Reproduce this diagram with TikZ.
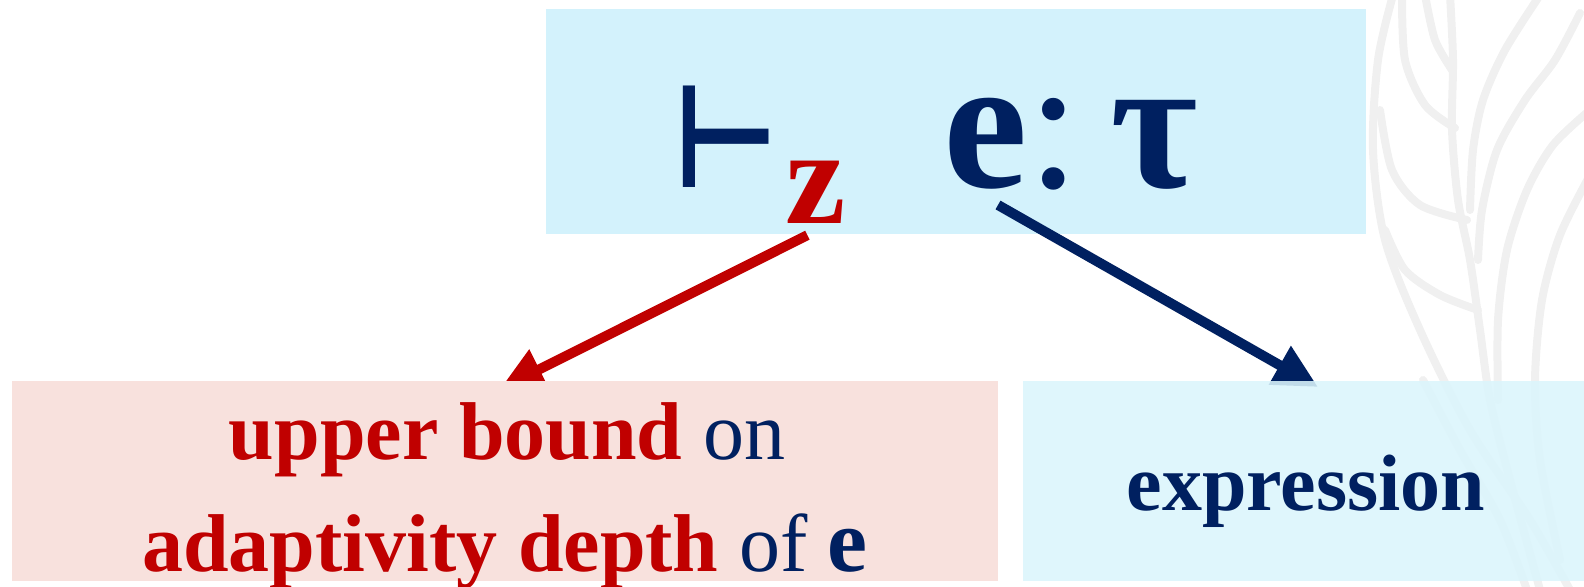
\documentclass[tikz,border=0pt]{standalone}
\usepackage{fontspec}
\setmainfont{Liberation Serif}
\newfontfamily\symfont{DejaVu Sans}
\usepackage{xcolor}
\definecolor{DeepRed}{HTML}{C00000}
\definecolor{Navy}{HTML}{002060}
\definecolor{SkyFill}{HTML}{D3F2FC}
\definecolor{IceFill}{HTML}{DBF5FC}
\definecolor{BlushFill}{HTML}{F8E1DD}
\definecolor{LeafGray}{HTML}{F0F0F0}
\usepackage{tikz}
\usetikzlibrary{arrows.meta}

\begin{document}
\begin{tikzpicture}[x=1pt,y=-1pt,
  panel/.style={rectangle,inner sep=0pt,draw=none},
  words/.style={inner sep=0pt,anchor=base,font=\fontsize{82}{96}\selectfont},
  glyph/.style={inner sep=0pt,anchor=base west},
  pointer/.style={line width=10pt,-{Triangle[length=44pt,width=42pt]}},
  leaf/.style={LeafGray,line width=8pt,line cap=round}]
  \useasboundingbox (0,0) rectangle (1584,586);
  % leaves in the background
  \draw[leaf] plot[smooth] coordinates {(1393,-5) (1378,60) (1373,150) (1385,240) (1420,330) (1470,430) (1530,520) (1570,590)};
  \draw[leaf] plot[smooth] coordinates {(1402,-5) (1405,60) (1425,105) (1455,128)};
  \draw[leaf] plot[smooth] coordinates {(1425,-5) (1435,40) (1452,70)};
  \draw[leaf] plot[smooth] coordinates {(1450,-5) (1453,60) (1452,130) (1458,200) (1470,260) (1480,330) (1490,400) (1510,480) (1540,590)};
  \draw[leaf] plot[smooth] coordinates {(1380,110) (1392,170) (1420,205) (1467,220)};
  \draw[leaf] plot[smooth] coordinates {(1385,230) (1405,270) (1440,295) (1478,310)};
  \draw[leaf] plot[smooth] coordinates {(1540,-5) (1505,50) (1483,100) (1473,150) (1470,210)};
  \draw[leaf] plot[smooth] coordinates {(1580,13) (1555,60) (1525,100) (1497,150) (1482,210) (1478,260)};
  \draw[leaf] plot[smooth] coordinates {(1590,110) (1553,145) (1527,190) (1507,250) (1498,320) (1498,400)};
  \draw[leaf] plot[smooth] coordinates {(1590,175) (1560,235) (1542,300) (1535,380) (1540,460) (1560,560)};
  \draw[leaf] plot[smooth] coordinates {(1423,380) (1460,450) (1500,520) (1527,590)};

  % judgement
  \node[panel,fill=SkyFill,minimum width=820pt,minimum height=225pt] (judgbox) at (956,121.5) {};
  \node[glyph,text=Navy,font=\symfont\bfseries\fontsize{144}{150}\selectfont] (turn) at (673,187) {\scalebox{0.8}[1]{⊢}};
  \node[glyph,text=DeepRed,font=\bfseries\fontsize{136}{140}\selectfont] (sub) at (785,223) {z};
  \node[glyph,text=Navy,font=\bfseries\fontsize{190}{200}\selectfont] (judg) at (943,187) {e{\mdseries:}\kern30pt τ};

  \coordinate (boundtip) at (500,389);
  \coordinate (exprtip) at (1318,387);
  \draw[pointer,DeepRed] ([shift={(-8,12)}]sub.south) -- (boundtip);
  \draw[pointer,Navy] ([shift={(55,18)}]judg.base west) -- (exprtip);

  % meanings
  \node[panel,fill=BlushFill,minimum width=986pt,minimum height=200pt] (boundbox) at (505,481) {};
  \node[panel,fill=IceFill,fill opacity=0.88,minimum width=561pt,minimum height=200pt] (exprbox) at (1303.5,481) {};
  \node[words] (bound1) at (507,459) {\textcolor{DeepRed}{\bfseries upper bound} \textcolor{Navy}{on}};
  \node[words] (bound2) at (505,571) {\textcolor{DeepRed}{\bfseries adaptivity depth} \textcolor{Navy}{of {\bfseries\fontsize{90}{96}\selectfont e}}};
  \node[words,text=Navy,font=\bfseries\fontsize{80}{96}\selectfont] (expr) at (1306,510) {expression};
\end{tikzpicture}
\end{document}
